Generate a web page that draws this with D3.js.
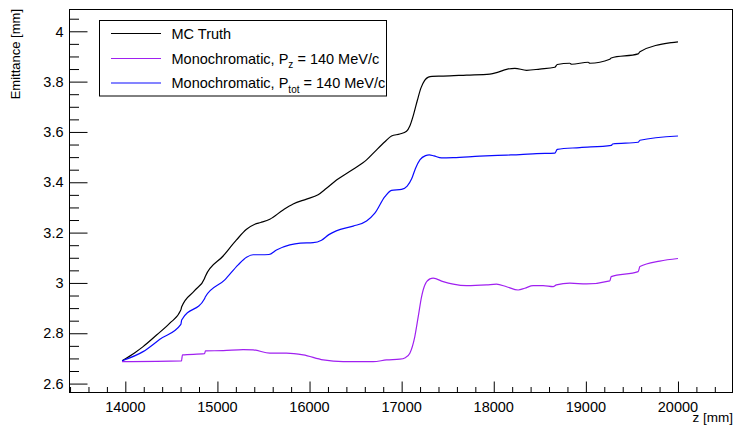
<!DOCTYPE html>
<html>
<head>
<meta charset="utf-8">
<script src="https://cdn.jsdelivr.net/npm/d3@7"></script>
<style>
  html, body { margin: 0; padding: 0; background: #fff; }
  svg { display: block; font-family: "Liberation Sans", Arial, Helvetica, sans-serif; }
</style>
</head>
<body>
<svg id="chart" width="735" height="427"></svg>
<script>
// ---- data ----
const mcZ = [13965,14100,14193,14339,14483,14603,14612,14754,14860,14868,15062,15207,15316,15406,15470,15569,15713,15822,15967,16093,16184,16293,16474,16619,16709,16818,16890,16980,17053,17090,17130,17170,17210,17250,17290,17330,17451,17705,17958,18048,18139,18229,18356,18500,18663,18690,18826,18844,19025,19043,19260,19275,19568,19587,19931,20000];
const mcE = [2.691,2.722,2.747,2.793,2.840,2.893,2.905,2.970,3.018,3.026,3.107,3.171,3.213,3.233,3.240,3.253,3.290,3.314,3.333,3.350,3.376,3.409,3.452,3.489,3.522,3.561,3.584,3.592,3.603,3.625,3.670,3.725,3.775,3.805,3.818,3.821,3.822,3.826,3.830,3.838,3.849,3.853,3.845,3.850,3.857,3.868,3.873,3.869,3.877,3.873,3.889,3.894,3.910,3.919,3.955,3.958];

const pzZ = [13965,14610,14620,14860,14870,15062,15279,15388,15569,15750,15931,16148,16365,16691,16836,16980,17040,17089,17143,17180,17216,17252,17307,17342,17451,17560,17705,17922,18030,18139,18265,18337,18428,18536,18645,18680,18826,19007,19260,19275,19568,19587,19803,20000];
const pzE = [2.687,2.690,2.714,2.719,2.730,2.731,2.735,2.734,2.721,2.721,2.714,2.694,2.687,2.687,2.694,2.697,2.703,2.721,2.787,2.866,2.945,2.992,3.016,3.019,3.005,2.995,2.989,2.992,2.995,2.985,2.972,2.979,2.989,2.989,2.985,2.992,2.999,2.996,3.008,3.025,3.045,3.065,3.087,3.097];

const ptZ = [13965,14193,14375,14603,14612,14860,14868,15080,15225,15316,15388,15470,15560,15641,15786,15900,16039,16130,16210,16290,16474,16619,16709,16818,16890,16999,17060,17110,17150,17200,17260,17300,17350,17433,17560,17849,18139,18283,18464,18663,18690,18934,19278,19290,19568,19587,20000];
const ptE = [2.691,2.727,2.776,2.835,2.853,2.937,2.944,3.012,3.072,3.102,3.112,3.112,3.113,3.131,3.151,3.158,3.160,3.170,3.192,3.207,3.226,3.246,3.277,3.343,3.368,3.372,3.385,3.415,3.455,3.490,3.506,3.509,3.505,3.497,3.498,3.504,3.508,3.510,3.514,3.516,3.531,3.538,3.547,3.552,3.559,3.567,3.584];

const seriesNames = ["MC Truth", "Monochromatic, P", "Monochromatic, P"];
const seriesSubs = ["", "z", "tot"];
const seriesTail = ["", " = 140 MeV/c", " = 140 MeV/c"];

const xTickValues = [14000,15000,16000,17000,18000,19000,20000];
const xTickLabels = ["14000","15000","16000","17000","18000","19000","20000"];
const yTickValues = [2.6,2.8,3.0,3.2,3.4,3.6,3.8,4.0];
const yTickLabels = ["2.6","2.8","3","3.2","3.4","3.6","3.8","4"];

const xTitle = "z [mm]";
const yTitle = "Emittance [mm]";

// ---- layout ----
const L = 69.5, R = 732.5, T = 9.5, B = 392.5;
const colors = ["#000000", "#a020f0", "#0a0aff"];

const svg = d3.select("#chart");
const x = d3.scaleLinear().domain([13394, 20592]).range([L, R]);
const y = d3.scaleLinear().domain([2.5646, 4.0866]).range([B, T]);

// frame
svg.append("rect").attr("x", L).attr("y", T).attr("width", R - L).attr("height", B - T)
  .attr("fill", "none").attr("stroke", "#000").attr("stroke-width", 1);

// x axis
const xMinor = d3.range(13400, 20592, 200).filter(v => v % 1000 !== 0);
const xAxisMajor = d3.axisTop(x).tickValues(xTickValues).tickSize(11).tickFormat("");
const xAxisMinor = d3.axisTop(x).tickValues(xMinor).tickSize(5.5).tickFormat("");
[xAxisMajor, xAxisMinor].forEach(ax => {
  const g = svg.append("g").attr("transform", `translate(0,${B})`).call(ax);
  g.select(".domain").remove();
  g.selectAll("line").attr("stroke", "#000").attr("stroke-width", 1);
});
svg.append("g").selectAll("text").data(xTickValues).join("text")
  .attr("x", d => x(d)).attr("y", 412)
  .attr("text-anchor", "middle").attr("font-size", "14.5px").attr("fill", "#000")
  .text((d, i) => xTickLabels[i]);

// y axis
const yMinor = d3.range(0, 40).map(i => +(2.6 + i * 0.05).toFixed(2)).filter(v => v < 4.0866 && Math.round(v * 100) % 20 !== 0);
const yAxisMajor = d3.axisRight(y).tickValues(yTickValues).tickSize(18).tickFormat("");
const yAxisMinor = d3.axisRight(y).tickValues(yMinor).tickSize(9.5).tickFormat("");
[yAxisMajor, yAxisMinor].forEach(ax => {
  const g = svg.append("g").attr("transform", `translate(${L},0)`).call(ax);
  g.select(".domain").remove();
  g.selectAll("line").attr("stroke", "#000").attr("stroke-width", 1);
});
svg.append("g").selectAll("text").data(yTickValues).join("text")
  .attr("x", 63.5).attr("y", d => y(d)).attr("dy", "0.36em")
  .attr("text-anchor", "end").attr("font-size", "14.5px").attr("fill", "#000")
  .text((d, i) => yTickLabels[i]);

// axis titles
svg.append("text").attr("x", 733).attr("y", 422).attr("text-anchor", "end")
  .attr("font-size", "13.5px").attr("fill", "#000").text(xTitle);
svg.append("text").attr("transform", "translate(20,9) rotate(-90)").attr("text-anchor", "end")
  .attr("font-size", "13px").attr("fill", "#000").text(yTitle);

// lines
const line = d3.line().x(d => x(d[0])).y(d => y(d[1])).curve(d3.curveMonotoneX);
const series = [
  d3.zip(mcZ, mcE),
  d3.zip(pzZ, pzE),
  d3.zip(ptZ, ptE)
];
const plot = svg.append("g");
plot.append("clipPath").attr("id", "clip").append("rect")
  .attr("x", L).attr("y", T).attr("width", R - L).attr("height", B - T);
series.forEach((s, i) => {
  plot.append("path").datum(s).attr("d", line).attr("fill", "none")
    .attr("stroke", colors[i]).attr("stroke-width", 1.2).attr("clip-path", "url(#clip)");
});

// legend
const lg = svg.append("g");
lg.append("rect").attr("x", 99.5).attr("y", 20.5).attr("width", 287).attr("height", 75.5)
  .attr("fill", "#fff").attr("stroke", "#000").attr("stroke-width", 1);
const rowsY = [33.5, 58.5, 83];
seriesNames.forEach((name, i) => {
  lg.append("line").attr("x1", 111).attr("x2", 161).attr("y1", rowsY[i]).attr("y2", rowsY[i])
    .attr("stroke", colors[i]).attr("stroke-width", 1.2);
  const t = lg.append("text").attr("x", 171.5).attr("y", rowsY[i]).attr("dy", "0.36em")
    .attr("font-size", "14.5px").attr("fill", "#000");
  t.append("tspan").text(name);
  if (seriesSubs[i]) {
    t.append("tspan").attr("font-size", "10px").attr("dy", "4.5").text(seriesSubs[i]);
    t.append("tspan").attr("dy", "-4.5").text(seriesTail[i]);
  }
});
</script>
</body>
</html>
